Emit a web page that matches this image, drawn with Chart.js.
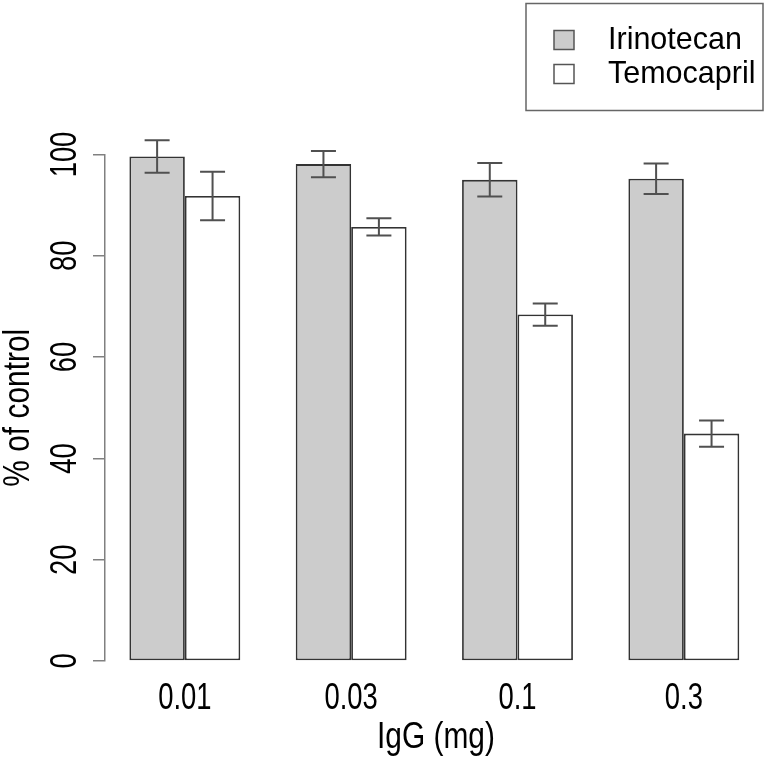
<!DOCTYPE html>
<html>
<head>
<meta charset="utf-8">
<script src="https://cdn.jsdelivr.net/npm/chart.js@4"></script>
<style>
  html, body { margin: 0; padding: 0; background: #fff; }
  canvas { display: block; }
</style>
</head>
<body>
<canvas id="chart" width="767" height="763"></canvas>
<script>
// dose groups along the x axis
const doses = ['0.01', '0.03', '0.1', '0.3'];
// mean % of control and error (half height of the bars)
const irinotecan = [99.6, 98.1, 95.0, 95.2];
const irinotecanErr = [3.2, 2.6, 3.3, 3.0];
const temocapril = [91.8, 85.7, 68.4, 44.9];
const temocaprilErr = [4.8, 1.7, 2.2, 2.6];
const yTicks = [0, 20, 40, 60, 80, 100];

const FONT = "'Liberation Sans', Arial, sans-serif";
const errors = [irinotecanErr, temocaprilErr];

// the axis text in the picture is tall and narrow: squeeze it sideways
// (tick labels at 37px, titles at 36px)
const squeeze = { '37px': 0.74, '36px': 0.83 };
const narrowText = {
  id: 'narrowText',
  beforeInit(chart) {
    const ctx = chart.ctx;
    const orig = ctx.fillText.bind(ctx);
    ctx.plainFillText = orig;
    ctx.fillText = (text, x, y, maxWidth) => {
      const key = Object.keys(squeeze).find(k => ctx.font.includes(k));
      if (!key) return maxWidth === undefined ? orig(text, x, y) : orig(text, x, y, maxWidth);
      let w = ctx.measureText(text).width * squeeze[key];
      if (maxWidth !== undefined) w = Math.min(w, maxWidth);
      orig(text, x, y, w);
    };
  }
};

// error bars, drawn from the scales
const errorBars = {
  id: 'errorBars',
  afterDatasetsDraw(chart) {
    const ctx = chart.ctx;
    const y = chart.scales.y;
    ctx.save();
    ctx.strokeStyle = '#505050';
    ctx.lineWidth = 2;
    chart.data.datasets.forEach((ds, i) => {
      const meta = chart.getDatasetMeta(i);
      meta.data.forEach((bar, j) => {
        const v = ds.data[j].y;
        const e = errors[i][j];
        const top = y.getPixelForValue(v + e);
        const bot = y.getPixelForValue(v - e);
        const cap = 12.5;
        ctx.beginPath();
        ctx.moveTo(bar.x, top); ctx.lineTo(bar.x, bot);
        ctx.moveTo(bar.x - cap, top); ctx.lineTo(bar.x + cap, top);
        ctx.moveTo(bar.x - cap, bot); ctx.lineTo(bar.x + cap, bot);
        ctx.stroke();
      });
    });
    ctx.restore();
  }
};

// boxed legend in the top right corner, like R's legend()
const boxLegend = {
  id: 'boxLegend',
  afterDraw(chart) {
    const ctx = chart.ctx;
    ctx.save();
    ctx.strokeStyle = '#666';
    ctx.lineWidth = 1.5;
    ctx.strokeRect(526, 3.5, 237, 107);
    ctx.font = '30.5px ' + FONT;
    ctx.textBaseline = 'middle';
    ctx.textAlign = 'left';
    chart.data.datasets.forEach((ds, i) => {
      const cy = 40 + i * 34;
      ctx.fillStyle = ds.backgroundColor;
      ctx.fillRect(554, cy - 9.5, 20, 19);
      ctx.strokeStyle = '#555';
      ctx.strokeRect(554, cy - 9.5, 20, 19);
      ctx.fillStyle = '#000';
      ctx.plainFillText(ds.label, 608, cy + 1);
    });
    ctx.restore();
  }
};

new Chart(document.getElementById('chart'), {
  type: 'bar',
  data: {
    datasets: [
      {
        label: 'Irinotecan',
        data: irinotecan.map((v, i) => ({ x: i + 1, y: v })),
        backgroundColor: '#cccccc',
        borderColor: '#333333',
        borderWidth: 1.8,
        borderSkipped: false
      },
      {
        label: 'Temocapril',
        data: temocapril.map((v, i) => ({ x: i + 1, y: v })),
        backgroundColor: '#ffffff',
        borderColor: '#333333',
        borderWidth: 1.8,
        borderSkipped: false
      }
    ]
  },
  options: {
    responsive: false,
    animation: false,
    devicePixelRatio: 1,
    categoryPercentage: 2 / 3,
    barPercentage: 1,
    layout: { padding: { top: 154.5, left: 0, right: 0, bottom: 0 } },
    plugins: {
      legend: { display: false },
      tooltip: { enabled: false }
    },
    scales: {
      x: {
        type: 'linear',
        offset: false,
        min: 0.52,
        max: 4.5,
        afterBuildTicks: (scale) => {
          scale.ticks = doses.map((_, i) => ({ value: i + 1 }));
        },
        afterFit: (scale) => { scale.height = 102; },
        grid: { display: false, drawTicks: false },
        border: { display: false },
        ticks: {
          padding: 16,
          color: '#000',
          font: { family: FONT, size: 37 },
          autoSkip: false,
          maxRotation: 0,
          callback: (v) => doses[v - 1]
        },
        title: {
          display: true,
          text: 'IgG (mg)',
          color: '#000',
          font: { family: FONT, size: 36 },
          padding: { top: 0, bottom: 3 }
        }
      },
      y: {
        min: 0,
        max: 100,
        afterBuildTicks: (scale) => {
          scale.ticks = yTicks.map(v => ({ value: v }));
        },
        afterFit: (scale) => { scale.width = 105; },
        grid: {
          drawOnChartArea: false,
          drawTicks: true,
          tickLength: 12,
          color: '#808080',
          lineWidth: 1.5
        },
        border: { display: true, color: '#808080', width: 1.5 },
        ticks: {
          padding: -4,
          color: '#000',
          font: { family: FONT, size: 37 },
          minRotation: 90,
          maxRotation: 90,
          crossAlign: 'center'
        },
        title: {
          display: true,
          text: '% of control',
          color: '#000',
          font: { family: FONT, size: 36, lineHeight: 1.05 },
          padding: 0
        }
      }
    }
  },
  plugins: [narrowText, errorBars, boxLegend]
});
</script>
</body>
</html>
